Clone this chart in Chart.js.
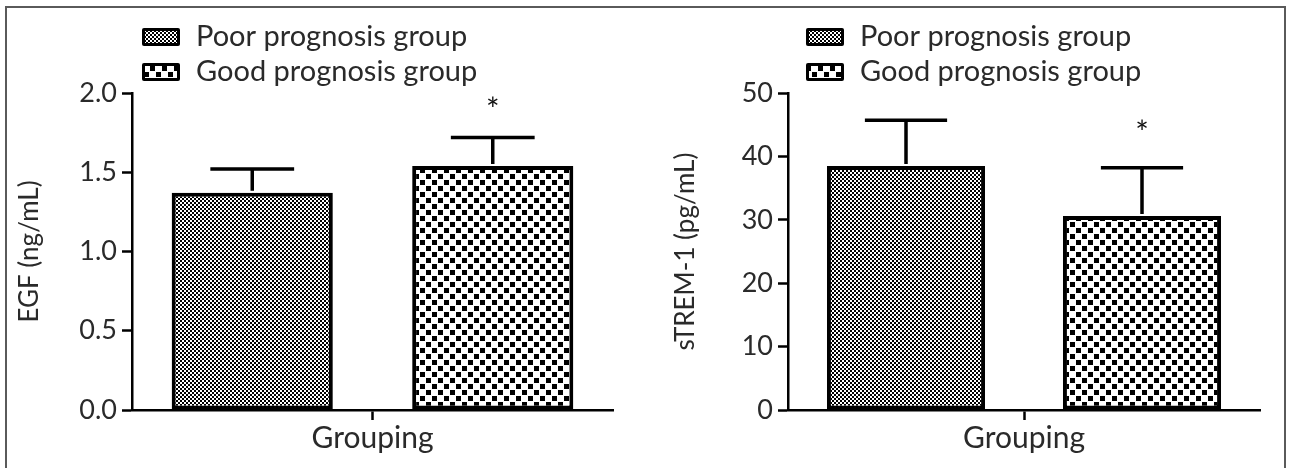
<!DOCTYPE html>
<html>
<head>
<meta charset="utf-8">
<script src="https://cdn.jsdelivr.net/npm/chart.js@4.4.1/dist/chart.umd.min.js"></script>
<style>
  html, body { margin: 0; padding: 0; background: #fff; }
  #wrap { position: relative; width: 1294px; height: 468px; overflow: hidden; }
  canvas { position: absolute; top: 0; }
  #frame { position: absolute; left: 5px; top: 6px; width: 1281px; height: 480px;
           border: 2px solid #5a5a5a; box-sizing: border-box; pointer-events: none; }
</style>
</head>
<body>
<div id="wrap">
  <canvas id="egf" width="647" height="468" style="left:0"></canvas>
  <canvas id="trem" width="638" height="468" style="left:656px"></canvas>
  <div id="frame"></div>
</div>
<script>
// ---- data ----
const categories = ['Grouping'];
const seriesNames = ['Poor prognosis group', 'Good prognosis group'];

const egfMean = [1.37, 1.54];
const egfSD = [0.15, 0.18];
const egfStar = [null, 1.93];
const egfTicks = [0, 0.5, 1.0, 1.5, 2.0];

const tremMean = [38.5, 30.6];
const tremSD = [7.2, 7.6];
const tremStar = [null, 44.7];
const tremTicks = [0, 10, 20, 30, 40, 50];

const FONT = 'Lato, "Open Sans", sans-serif';
const INK = '#2a2a2a';

// checkerboard fills
function checker(cell, dot) {
  const c = document.createElement('canvas');
  c.width = cell * 2; c.height = cell * 2;
  const g = c.getContext('2d');
  g.fillStyle = '#fff'; g.fillRect(0, 0, c.width, c.height);
  g.fillStyle = '#000';
  g.fillRect(0, 0, dot, dot);
  g.fillRect(cell, cell, dot, dot);
  return g.createPattern(c, 'repeat');
}

// error bars, significance stars and the boxed legend
const extras = {
  id: 'extras',
  afterDatasetsDraw(chart, args, opts) {
    const ctx = chart.ctx;
    const y = chart.scales.y;
    ctx.save();
    chart.data.datasets.forEach((ds, i) => {
      const bar = chart.getDatasetMeta(i).data[0];
      const top = y.getPixelForValue(ds.data[0]);
      const cap = y.getPixelForValue(ds.data[0] + opts.sd[i]);
      const half = bar.width * 0.26;
      ctx.strokeStyle = '#000';
      ctx.lineWidth = 3.5;
      ctx.lineCap = 'butt';
      ctx.beginPath();
      ctx.moveTo(bar.x, top - 2);
      ctx.lineTo(bar.x, cap);
      ctx.moveTo(bar.x - half, cap);
      ctx.lineTo(bar.x + half, cap);
      ctx.stroke();
      if (opts.star[i] != null) {
        ctx.fillStyle = '#111';
        ctx.font = '32px ' + FONT;
        ctx.textAlign = 'center';
        ctx.textBaseline = 'middle';
        ctx.fillText('*', bar.x, y.getPixelForValue(opts.star[i]) + 7);
      }
    });
    // legend
    const x0 = chart.chartArea.left + opts.legendDx;
    chart.data.datasets.forEach((ds, i) => {
      const cy = 37 + i * 35;
      ctx.fillStyle = '#000';
      ctx.beginPath();
      ctx.roundRect(x0, cy - 9, 38, 18, 2);
      ctx.fill();
      ctx.fillStyle = ds.backgroundColor;
      ctx.fillRect(x0 + 3, cy - 6, 32, 12);
      ctx.fillStyle = INK;
      ctx.font = '29px ' + FONT;
      ctx.textAlign = 'left';
      ctx.textBaseline = 'middle';
      ctx.fillText(ds.label, x0 + 54, cy);
    });
    ctx.restore();
  }
};

function makeChart(id, means, sd, star, ticks, title, fmt, legendDx) {
  const fills = [checker(2, 2), checker(6, 5)];
  return new Chart(document.getElementById(id), {
    type: 'bar',
    data: {
      labels: categories,
      datasets: seriesNames.map((name, i) => ({
        label: name,
        data: [means[i]],
        backgroundColor: fills[i],
        borderColor: '#000',
        borderWidth: 4,
        borderSkipped: false,
        categoryPercentage: 1.0,
        barPercentage: 0.67
      }))
    },
    options: {
      responsive: false,
      animation: false,
      devicePixelRatio: 1,
      layout: { padding: { left: 0, right: 34, top: 93, bottom: 0 } },
      plugins: {
        legend: { display: false },
        tooltip: { enabled: false },
        extras: { sd: sd, star: star, legendDx: legendDx }
      },
      scales: {
        x: {
          afterFit(s) { s.height = 58; },
          grid: { offset: false, drawOnChartArea: false, drawTicks: true,
                  tickLength: 10, tickWidth: 2.5, tickColor: '#000' },
          border: { display: true, color: '#000', width: 2.5 },
          ticks: { color: INK, font: { family: FONT, size: 30 }, padding: 0 }
        },
        y: {
          min: ticks[0],
          max: ticks[ticks.length - 1],
          afterFit(s) { s.width = 132; },
          afterBuildTicks(s) { s.ticks = ticks.map(v => ({ value: v })); },
          grid: { drawOnChartArea: false, drawTicks: true,
                  tickLength: 10, tickWidth: 2.5, tickColor: '#000' },
          border: { display: true, color: '#000', width: 2.5 },
          ticks: { color: INK, font: { family: FONT, size: 27 }, padding: 5,
                   callback: v => fmt(v) },
          title: { display: true, text: title, color: INK,
                   font: { family: FONT, size: 26 }, padding: { top: 14, bottom: 0 } }
        }
      }
    },
    plugins: [extras]
  });
}

makeChart('egf', egfMean, egfSD, egfStar, egfTicks, 'EGF (ng/mL)', v => v.toFixed(1), 10);
makeChart('trem', tremMean, tremSD, tremStar, tremTicks, 'sTREM-1 (pg/mL)', v => String(v), 18);
</script>
</body>
</html>
